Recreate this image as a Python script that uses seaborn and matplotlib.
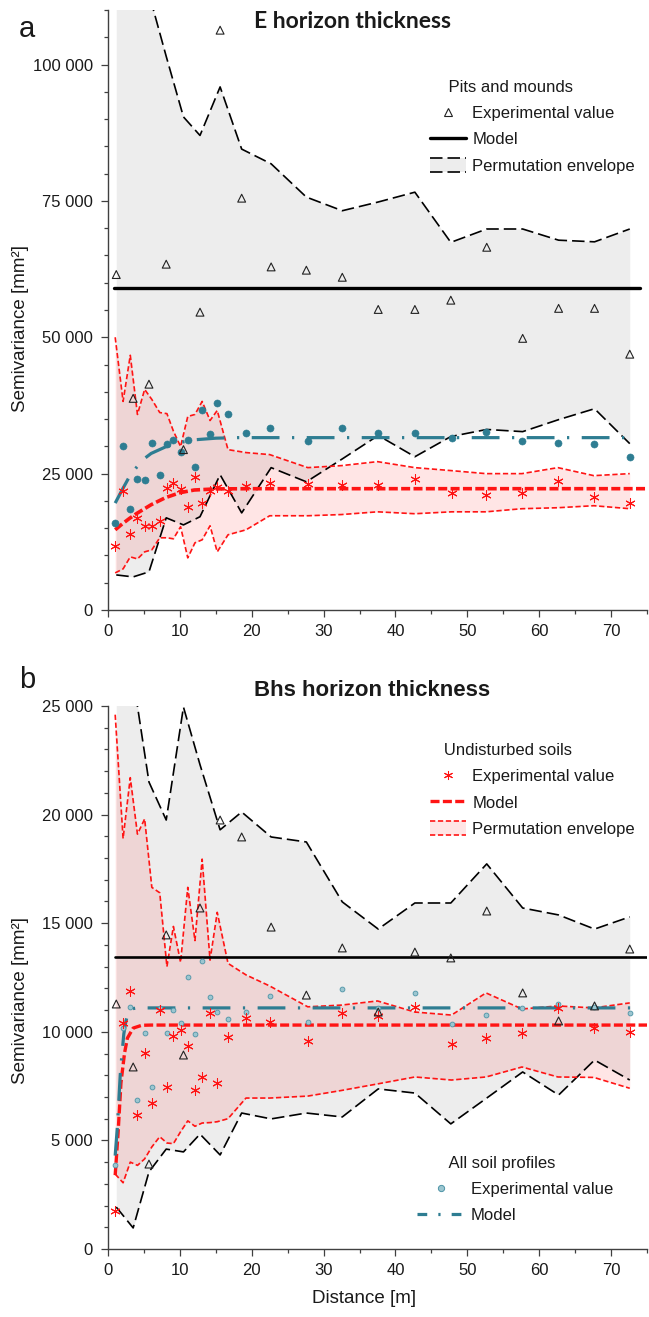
import matplotlib
matplotlib.use("Agg")
import matplotlib.pyplot as plt
import seaborn as sns
from matplotlib.lines import Line2D
from matplotlib.patches import Rectangle
from matplotlib.legend_handler import HandlerBase
from matplotlib.ticker import MultipleLocator

# ---------------------------------------------------------------- data
# lag distances [m]: fine bins (undisturbed soils / all profiles) and
# coarse bins (pits and mounds)
lag_fine = [1.0, 2.1, 3.1, 4.1, 5.1, 6.1, 7.2, 8.2, 9.1, 10.1, 11.1, 12.1, 13.1, 14.2,
            15.2, 16.7, 19.2, 22.5, 27.8, 32.5, 37.5, 42.7, 47.8, 52.6, 57.6, 62.6, 67.6, 72.6]
lag_coarse = [1.15, 3.5, 5.7, 8.1, 10.5, 12.8, 15.6, 18.6, 22.7, 27.6, 32.6, 37.6, 42.7,
              47.7, 52.7, 57.7, 62.7, 67.7, 72.6]

# E horizon thickness
e_pm_exp = [61500, 38800, 41400, 63400, 29400, 54600, 106300, 75500, 62900, 62300, 61000,
            55100, 55100, 56800, 66500, 49800, 55300, 55300, 46900]
e_pm_env_hi = [150000, 130000, 113000, 101500, 90400, 87000, 95900, 84500, 81800, 75700,
               73200, 74800, 76600, 67400, 69850, 69850, 67800, 67500, 69850]
e_pm_env_lo = [6430, 6070, 6990, 16900, 15600, 17100, 24800, 17800, 26100, 23500, 27700,
               32000, 28100, 31800, 33100, 32700, 34900, 36900, 30500]
e_pm_model_x = [0.8, 74.0]
e_pm_model_y = [59000, 59000]

e_und_exp = [11760, 21900, 13970, 16900, 15440, 15440, 16360, 22430, 23350, 22240, 18930,
             24450, 19670, 21880, 22600, 21880, 22800, 23350, 23160, 22980, 22980, 24080,
             21500, 21140, 21500, 23700, 20770, 19670]
e_und_env_hi = [50000, 38240, 46700, 35850, 40440, 38600, 36200, 36000, 32800, 29960, 35480,
                35850, 38240, 34740, 36580, 29400, 28860, 28490, 26100, 26470, 27200, 26100,
                25550, 25000, 25000, 26100, 24630, 25000]
e_und_env_lo = [6800, 7540, 9740, 9370, 10660, 11030, 13240, 13240, 13050, 15260, 9560,
                12320, 12870, 15440, 10660, 13790, 14700, 17280, 17280, 17500, 18000, 17650,
                18000, 18000, 18570, 18750, 19120, 18570]
e_und_model_x = [1, 2, 3, 4, 5, 6, 8, 10, 12, 15, 20, 75]
e_und_model_y = [14700, 15800, 16800, 17700, 18500, 19300, 20600, 21500, 22000, 22200,
                 22240, 22240]

e_all_exp = [16000, 30000, 18560, 24080, 23900, 30700, 24800, 30500, 31100, 29000, 31100,
             26300, 36600, 32200, 37900, 36000, 32500, 33300, 30900, 33400, 32500, 32400,
             31600, 32700, 30900, 30700, 30500, 28100]
e_all_model_x = [1, 2, 3, 4, 5, 6, 8, 10, 12, 15, 18, 73]
e_all_model_y = [19600, 22100, 24500, 26200, 27700, 28700, 29900, 30700, 31200, 31500,
                 31600, 31600]

# Bhs horizon thickness
b_pm_exp = [11280, 8380, 3910, 14460, 8930, 15700, 19750, 18970, 14820, 11690, 13860,
            10910, 13670, 13400, 15560, 11790, 10500, 11190, 13810]
b_pm_env_hi = [40000, 26300, 21500, 19750, 24950, 22300, 19300, 20120, 18970, 18740, 15980,
               14730, 15930, 15930, 17730, 15700, 15380, 14730, 15290]
b_pm_env_lo = [1930, 970, 3550, 4600, 4470, 5290, 4330, 6260, 5990, 6260, 6080, 7370, 7180,
               5760, 6950, 8150, 7090, 8700, 7780]
b_pm_model_x = [1.0, 75.0]
b_pm_model_y = [13450, 13450]

b_und_exp = [1750, 10400, 11880, 6170, 9020, 6720, 11000, 7460, 9810, 10080, 9350, 7320,
             7920, 10870, 7640, 9760, 10630, 10450, 9580, 10870, 10730, 11140, 9440, 9710,
             9940, 11100, 10170, 9990]
b_und_env_hi = [24600, 18900, 21700, 19100, 19800, 16650, 16400, 13000, 14850, 13200, 16650,
                14200, 17950, 13300, 15500, 13150, 12620, 12110, 11150, 11230, 11420, 10910,
                10770, 11790, 11050, 11190, 11100, 11330]
b_und_env_lo = [3450, 3050, 4000, 3850, 4150, 4700, 5170, 4880, 4850, 5400, 5900, 5650,
                5800, 5820, 5860, 6000, 6950, 6950, 7040, 7300, 7600, 7920, 7780, 7920,
                8380, 7920, 7900, 7400]
b_und_model_x = [1.0, 1.4, 1.8, 2.3, 2.7, 3.5, 4.7, 6.0, 75.0]
b_und_model_y = [3400, 5330, 7640, 9020, 9710, 10170, 10300, 10310, 10310]

b_all_exp = [3870, 10170, 11140, 6860, 9940, 7460, 11100, 9940, 11000, 10400, 12520, 9900,
             13260, 11600, 10910, 10590, 10910, 11650, 10450, 11970, 11100, 11790, 10360,
             10770, 11100, 11280, 11140, 10870]
b_all_model_x = [1.0, 1.3, 1.5, 1.7, 1.9, 2.2, 2.5, 2.8, 3.2, 4.0, 74.1]
b_all_model_y = [4300, 5600, 6800, 8000, 8800, 9900, 10500, 10850, 11050, 11100, 11100]

# axis ticks
x_ticks = [0, 10, 20, 30, 40, 50, 60, 70]
x_tick_labels = ["0", "10", "20", "30", "40", "50", "60", "70"]
ya_ticks = [0, 25000, 50000, 75000, 100000]
ya_tick_labels = ["0", "25 000", "50 000", "75 000", "100 000"]
yb_ticks = [0, 5000, 10000, 15000, 20000, 25000]
yb_tick_labels = ["0", "5 000", "10 000", "15 000", "20 000", "25 000"]

# ---------------------------------------------------------------- style
sns.set_style("ticks")
plt.rcParams["font.family"] = ["Liberation Sans", "DejaVu Sans"]
plt.rcParams["lines.scale_dashes"] = False
plt.rcParams["lines.dash_capstyle"] = "butt"

GREY_FILL = "#EDEDED"
RED = "#FF1414"
RED_ALPHA = 0.11
TEAL = "#2E7D92"
LIGHT = "#9CC6D0"
LIGHT_EDGE = "#4C93A6"
INK = "#1A1A1A"
AXC = "#404040"

LS_ENV_BLACK = (0, (9, 3.6))
LS_ENV_RED = (0, (3.8, 1.9))
LS_MODEL_RED = (0, (6.5, 2.4))
LS_MODEL_TEAL = (0, (20, 9, 1.6, 9))

AST = (6, 2, 0)


class Envelope:
    def __init__(self, face, alpha, edge, ls, lw):
        self.face, self.alpha, self.edge, self.ls, self.lw = face, alpha, edge, ls, lw


class EnvelopeHandler(HandlerBase):
    def create_artists(self, legend, orig, xdescent, ydescent, width, height, fontsize, trans):
        x0, y0 = -xdescent, -ydescent
        rect = Rectangle((x0, y0), width, height, facecolor=orig.face, alpha=orig.alpha,
                         edgecolor="none", transform=trans)
        top = Line2D([x0, x0 + width], [y0 + height] * 2, color=orig.edge,
                     linestyle=orig.ls, lw=orig.lw, transform=trans)
        bot = Line2D([x0, x0 + width], [y0] * 2, color=orig.edge,
                     linestyle=orig.ls, lw=orig.lw, transform=trans)
        return [rect, top, bot]


fig = plt.figure(figsize=(6.49, 13.17), dpi=100)
W, H = 649, 1317
ax_a = fig.add_axes([108 / W, 1 - 610 / H, 539 / W, 600 / H])
ax_b = fig.add_axes([108 / W, 1 - 1249 / H, 539 / W, 543 / H])


def draw_panel(ax, pm_exp, pm_hi, pm_lo, pm_mx, pm_my,
               und_exp, und_hi, und_lo, und_mx, und_my,
               all_exp, all_mx, all_my, model_lw, red_lw, light_points):
    # permutation envelopes
    ax.fill_between(lag_coarse, pm_lo, pm_hi, color=GREY_FILL, lw=0, zorder=1)
    ax.fill_between(lag_fine, und_lo, und_hi, color=RED, alpha=RED_ALPHA, lw=0, zorder=2)
    for yy in (pm_hi, pm_lo):
        sns.lineplot(x=lag_coarse, y=yy, ax=ax, color="black", lw=1.2,
                     linestyle=LS_ENV_BLACK, zorder=3)
    for yy in (und_hi, und_lo):
        sns.lineplot(x=lag_fine, y=yy, ax=ax, color=RED, lw=1.2,
                     linestyle=LS_ENV_RED, zorder=3)
    # models
    sns.lineplot(x=pm_mx, y=pm_my, ax=ax, color="black", lw=model_lw, zorder=4)
    sns.lineplot(x=und_mx, y=und_my, ax=ax, color=RED, lw=red_lw,
                 linestyle=LS_MODEL_RED, zorder=4)
    sns.lineplot(x=all_mx, y=all_my, ax=ax, color=TEAL, lw=2.3,
                 linestyle=LS_MODEL_TEAL, zorder=4)
    # experimental values
    if light_points:
        sns.scatterplot(x=lag_fine, y=all_exp, ax=ax, marker="o", s=12, color=LIGHT,
                        edgecolor=LIGHT_EDGE, linewidth=0.6, zorder=5)
    else:
        sns.scatterplot(x=lag_fine, y=all_exp, ax=ax, marker="o", s=26, color=TEAL,
                        edgecolor=TEAL, linewidth=0.4, zorder=5)
    sns.scatterplot(x=lag_fine, y=und_exp, ax=ax, marker=AST, s=46, color=RED,
                    linewidth=0.75, zorder=6)
    sns.scatterplot(x=lag_coarse, y=pm_exp, ax=ax, marker="^", s=32, color="#222222",
                    facecolor="none", edgecolor="#222222", linewidth=0.8, zorder=7)


def style_axes(ax, yticks, ylabels, ymax, yminor):
    ax.set_xlim(0, 75)
    ax.set_ylim(0, ymax)
    ax.set_xticks(x_ticks)
    ax.set_xticklabels(x_tick_labels)
    ax.set_yticks(yticks)
    ax.set_yticklabels(ylabels)
    ax.xaxis.set_minor_locator(MultipleLocator(5))
    ax.yaxis.set_minor_locator(MultipleLocator(yminor))
    sns.despine(ax=ax)
    for s in ("left", "bottom"):
        ax.spines[s].set_color(AXC)
        ax.spines[s].set_linewidth(1.0)
    ax.tick_params(which="major", length=4.8, width=0.9, color=AXC, labelsize=12,
                   labelcolor=INK, direction="out")
    ax.tick_params(which="minor", length=3.1, width=0.9, color=AXC, direction="out")
    ax.tick_params(axis="y", which="major", pad=6)
    ax.tick_params(axis="x", which="major", pad=5)
    ax.set_xlabel("")
    ax.set_ylabel("Semivariance [mm²]", fontsize=13.5, color=INK)


draw_panel(ax_a, e_pm_exp, e_pm_env_hi, e_pm_env_lo, e_pm_model_x, e_pm_model_y,
           e_und_exp, e_und_env_hi, e_und_env_lo, e_und_model_x, e_und_model_y,
           e_all_exp, e_all_model_x, e_all_model_y, 2.4, 2.6, False)
draw_panel(ax_b, b_pm_exp, b_pm_env_hi, b_pm_env_lo, b_pm_model_x, b_pm_model_y,
           b_und_exp, b_und_env_hi, b_und_env_lo, b_und_model_x, b_und_model_y,
           b_all_exp, b_all_model_x, b_all_model_y, 1.9, 2.4, True)

style_axes(ax_a, ya_ticks, ya_tick_labels, 110000, 5000)
style_axes(ax_b, yb_ticks, yb_tick_labels, 25000, 1000)
ax_a.yaxis.set_label_coords(-0.147, 0.47)
ax_b.yaxis.set_label_coords(-0.147, 0.457)
ax_b.set_xlabel("Distance [m]", fontsize=13.5, color=INK)
ax_b.xaxis.set_label_coords(0.475, -0.0755)

# titles and panel letters
ax_a.text(0.4545, 0.98, "E horizon thickness", transform=ax_a.transAxes, ha="center",
          va="center", fontsize=16.5, fontweight="bold", color=INK,
          family=["Lato", "DejaVu Sans"], zorder=10)
ax_b.text(0.49, 1.029, "Bhs horizon thickness", transform=ax_b.transAxes, ha="center",
          va="center", fontsize=16, fontweight="bold", color=INK)
fig.text(27 / W, 1 - 29 / H, "a", fontsize=21, ha="center", va="center", color=INK)
fig.text(27 / W, 1 - 680 / H, "b", fontsize=21, ha="center", va="center", color=INK)

# legends
leg_kw = dict(loc="upper left", frameon=False, fontsize=12, title_fontsize=12,
              borderpad=0, borderaxespad=0, handletextpad=0.35, labelspacing=0.64,
              alignment="left", labelcolor=INK,
              handler_map={Envelope: EnvelopeHandler()})

h_tri = Line2D([], [], marker="^", ls="none", mfc="none", mec="#222222", ms=5.5, mew=0.8)
h_blk = Line2D([], [], color="black", lw=2.4)
h_env_blk = Envelope(GREY_FILL, 1.0, "black", LS_ENV_BLACK, 1.2)
leg_a = ax_a.legend([h_tri, h_blk, h_env_blk],
                    ["Experimental value", "Model", "Permutation envelope"],
                    title="    Pits and mounds", bbox_to_anchor=(0.597, 0.884),
                    handlelength=2.2, handleheight=0.9, **leg_kw)
leg_a.get_title().set_color(INK)

h_ast = Line2D([], [], marker=AST, ls="none", color=RED, ms=6.5, mew=0.75)
h_red = Line2D([], [], color=RED, lw=2.4, ls=LS_MODEL_RED)
h_env_red = Envelope(RED, RED_ALPHA, RED, LS_ENV_RED, 1.2)
leg_b1 = ax_b.legend([h_ast, h_red, h_env_red],
                     ["Experimental value", "Model", "Permutation envelope"],
                     title="   Undisturbed soils", bbox_to_anchor=(0.597, 0.932),
                     handlelength=2.2, handleheight=0.9, **leg_kw)
leg_b1.get_title().set_color(INK)
ax_b.add_artist(leg_b1)

h_circ = Line2D([], [], marker="o", ls="none", mfc=LIGHT, mec=LIGHT_EDGE, ms=4.5, mew=0.7)
h_teal = Line2D([], [], color=TEAL, lw=2.3, ls=(0, (7, 8, 1.6, 8)))
leg_b2 = ax_b.legend([h_circ, h_teal], ["Experimental value", "Model"],
                     title="       All soil profiles", bbox_to_anchor=(0.573, 0.172),
                     handlelength=2.9, handleheight=0.9, **leg_kw)
leg_b2.get_title().set_color(INK)

fig.savefig("out.png", dpi=100)
